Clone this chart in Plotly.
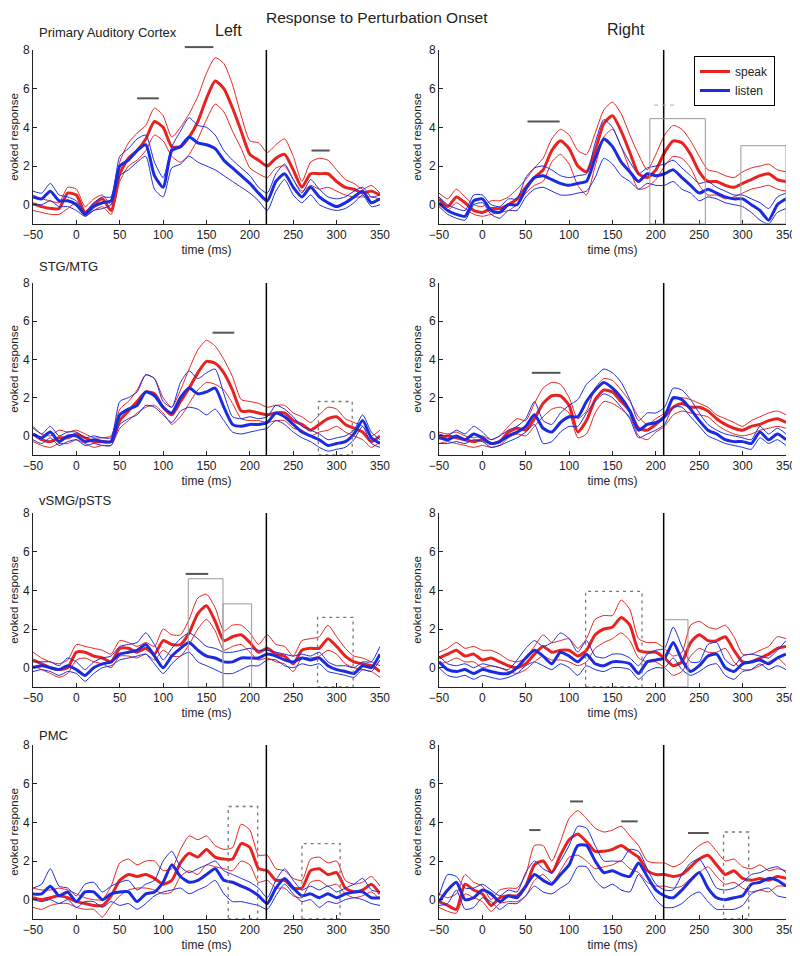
import plotly.graph_objects as go
from plotly.subplots import make_subplots

# time axis (ms), sampled every 10 ms
time_ms = list(range(-50, 351, 10))

# ---- Primary Auditory Cortex, left ----
aud_l_speak = [0.05, -0.1, -0.2, -0.2, 0.6, 0.5, -0.4, 0.0, 0.3, -0.3, 1.6, 2.4, 2.8, 3.4, 4.3, 4.0, 3.0, 3.0, 3.5, 4.3,
               5.5, 6.4, 6.0, 5.0, 3.8, 2.6, 2.3, 2.0, 2.4, 2.6, 1.8, 0.9, 1.6, 1.6, 1.6, 1.2, 0.9, 0.8, 0.6, 0.7, 0.5]
aud_l_speak_hi = [0.5, 0.3, 0.2, 0.1, 0.9, 0.8, -0.1, 0.3, 0.5, 0.0, 2.2, 3.2, 3.7, 4.1, 5.0, 4.6, 3.5, 4.0, 4.7, 5.6,
                  6.8, 7.6, 7.3, 6.2, 4.6, 3.3, 3.2, 2.7, 3.1, 3.4, 2.5, 1.2, 2.2, 2.4, 2.3, 1.8, 1.3, 1.1, 0.8, 1.0, 0.6]
aud_l_speak_lo = [-0.3, -0.4, -0.5, -0.5, -0.2, 0.1, -0.6, -0.3, -0.1, -0.5, 1.2, 2.0, 2.3, 2.8, 3.6, 3.3, 2.5, 2.2, 2.6, 3.4,
                  4.4, 5.2, 4.8, 3.8, 2.9, 1.9, 1.6, 1.4, 1.9, 2.0, 1.3, 0.7, 1.0, 0.8, 0.9, 0.7, 0.5, 0.4, 0.4, 0.4, 0.3]
aud_l_listen = [0.4, 0.3, 0.7, 0.2, 0.2, 0.0, -0.5, -0.1, 0.1, 0.2, 2.0, 2.3, 2.8, 3.1, 1.5, 0.9, 2.8, 3.0, 3.5, 3.2,
                3.1, 2.9, 2.3, 1.9, 1.5, 1.1, 0.6, 0.2, 1.2, 1.6, 0.9, 0.4, 0.9, 0.4, 0.1, -0.1, 0.1, 0.4, 0.7, 0.1, 0.3]
aud_l_listen_hi = [0.7, 0.6, 1.1, 0.5, 0.4, 0.2, -0.4, 0.1, 0.4, 0.4, 2.5, 2.9, 3.4, 3.6, 2.2, 1.4, 3.0, 3.8, 4.5, 4.1,
                   4.0, 3.6, 2.8, 2.3, 1.9, 1.5, 0.9, 0.6, 1.6, 2.1, 1.3, 0.6, 1.3, 0.8, 0.4, 0.3, 0.4, 0.7, 0.9, 0.4, 0.5]
aud_l_listen_lo = [0.0, 0.0, 0.2, -0.1, -0.1, -0.3, -0.6, -0.3, -0.2, 0.0, 1.5, 1.8, 2.2, 2.5, 0.8, 0.4, 1.9, 2.1, 2.5, 2.2,
                   2.0, 1.8, 1.5, 1.2, 0.9, 0.6, 0.2, -0.3, 0.7, 1.3, 0.5, 0.1, 0.5, 0.0, -0.2, -0.3, -0.2, 0.1, 0.5, -0.1, 0.0]

# ---- Primary Auditory Cortex, right ----
aud_r_speak = [0.3, -0.1, 0.4, 0.1, -0.3, -0.4, -0.2, -0.2, 0.0, 0.3, 0.9, 1.4, 1.8, 2.8, 3.3, 2.9, 2.0, 1.7, 2.8, 4.2,
               4.6, 3.8, 2.7, 1.6, 1.4, 1.8, 2.7, 3.3, 3.2, 2.6, 1.7, 1.2, 1.2, 1.0, 0.9, 1.1, 1.3, 1.5, 1.6, 1.3, 1.2]
aud_r_speak_hi = [0.6, 0.3, 0.8, 0.4, 0.0, -0.1, 0.2, 0.2, 0.4, 0.8, 1.3, 1.9, 2.4, 3.4, 3.9, 3.6, 2.8, 2.6, 3.7, 4.9,
                  5.3, 4.7, 3.6, 2.6, 1.8, 2.6, 3.6, 4.1, 3.9, 3.3, 2.5, 1.8, 1.7, 1.5, 1.4, 1.7, 1.9, 2.0, 2.1, 1.8, 1.7]
aud_r_speak_lo = [0.0, -0.3, 0.1, -0.2, -0.5, -0.6, -0.5, -0.4, -0.3, 0.0, 0.6, 1.0, 1.2, 2.2, 2.6, 2.1, 1.0, 0.5, 2.0, 3.5,
                  3.9, 3.0, 1.8, 0.8, 0.9, 1.3, 2.0, 2.5, 2.4, 1.9, 1.0, 0.5, 0.5, 0.3, 0.4, 0.6, 0.8, 0.9, 1.0, 0.8, 0.7]
aud_r_listen = [0.1, -0.3, -0.5, -0.6, 0.2, 0.3, -0.3, -0.4, 0.0, 0.0, 0.8, 1.4, 1.5, 1.3, 1.1, 1.0, 1.1, 1.2, 2.4, 3.4,
                3.0, 2.2, 1.7, 1.2, 1.6, 1.5, 1.6, 1.8, 1.4, 1.0, 0.6, 0.8, 0.6, 0.4, 0.3, 0.3, 0.0, -0.3, -0.8, 0.0, 0.3]
aud_r_listen_hi = [0.4, 0.0, -0.2, -0.3, 0.5, 0.5, 0.0, -0.1, 0.3, 0.3, 1.4, 1.9, 2.0, 1.8, 1.5, 1.4, 1.5, 1.6, 3.2, 4.4,
                   4.0, 3.0, 2.2, 1.6, 1.9, 2.0, 2.1, 2.3, 1.9, 1.5, 1.1, 1.2, 0.9, 0.7, 0.5, 0.5, 0.3, 0.1, -0.2, 0.4, 0.6]
aud_r_listen_lo = [-0.1, -0.5, -0.7, -0.8, 0.0, 0.1, -0.5, -0.7, -0.3, -0.3, 0.4, 0.8, 0.9, 0.7, 0.5, 0.5, 0.6, 0.7, 1.4, 2.4,
                   2.1, 1.5, 1.2, 0.8, 1.1, 1.0, 1.0, 1.2, 0.8, 0.6, 0.2, 0.4, 0.3, 0.1, 0.0, -0.1, -0.4, -0.8, -1.0, -0.4, -0.2]

# ---- STG/MTG, left ----
stg_l_speak = [0.1, -0.2, -0.3, -0.1, -0.1, 0.1, -0.1, -0.3, -0.3, -0.3, 0.8, 1.3, 1.8, 2.3, 2.2, 1.5, 1.1, 1.8, 2.5, 3.3,
               3.9, 3.8, 3.3, 2.4, 1.3, 1.3, 1.2, 1.1, 1.2, 1.2, 0.8, 0.6, 0.3, 0.6, 0.9, 1.0, 0.6, 0.4, 0.2, -0.3, 0.0]
stg_l_speak_hi = [0.4, 0.1, 0.0, 0.3, 0.2, 0.3, 0.1, -0.1, -0.1, 0.0, 1.4, 1.8, 2.4, 3.2, 3.0, 2.0, 1.5, 2.4, 3.5, 4.5,
                  5.0, 4.7, 4.0, 3.1, 1.9, 1.8, 1.7, 1.5, 1.6, 1.6, 1.2, 1.0, 0.7, 1.1, 1.5, 1.4, 0.9, 0.7, 0.5, 0.0, 0.3]
stg_l_speak_lo = [-0.3, -0.5, -0.6, -0.4, -0.4, -0.2, -0.4, -0.6, -0.5, -0.5, 0.4, 0.8, 1.2, 1.5, 1.6, 1.2, 0.6, 1.0, 1.7, 2.4,
                  2.8, 2.7, 2.4, 1.7, 0.9, 0.8, 0.8, 0.7, 0.8, 0.8, 0.4, 0.3, 0.0, 0.2, 0.3, 0.5, 0.2, 0.0, -0.2, -0.6, -0.3]
stg_l_listen = [0.1, -0.1, 0.2, -0.3, 0.0, 0.0, -0.3, -0.2, -0.3, -0.3, 1.1, 1.4, 1.6, 2.3, 2.1, 1.5, 1.2, 2.0, 2.5, 2.2,
                2.3, 2.5, 1.5, 0.6, 0.5, 0.6, 0.6, 0.7, 1.2, 1.0, 0.6, 0.2, 0.0, -0.2, -0.5, -0.4, -0.3, 0.1, 0.8, -0.1, -0.4]
stg_l_listen_hi = [0.5, 0.1, 0.5, 0.0, 0.2, 0.2, -0.1, 0.0, -0.1, -0.1, 1.8, 2.0, 2.3, 3.2, 3.0, 1.8, 1.5, 2.8, 3.4, 3.0,
                   3.3, 3.5, 2.2, 1.0, 0.9, 1.0, 0.9, 1.0, 1.6, 1.4, 1.0, 0.5, 0.3, 0.1, -0.2, -0.1, 0.0, 0.3, 1.1, 0.2, -0.2]
stg_l_listen_lo = [-0.2, -0.4, -0.1, -0.5, -0.3, -0.2, -0.5, -0.4, -0.5, -0.5, 0.6, 0.9, 1.1, 1.6, 1.5, 1.1, 0.7, 1.3, 1.5, 1.4,
                   1.1, 1.4, 0.8, 0.2, 0.1, 0.2, 0.3, 0.4, 0.8, 0.6, 0.2, -0.1, -0.3, -0.6, -0.8, -0.7, -0.6, -0.2, 0.5, -0.4, -0.6]

# ---- STG/MTG, right ----
stg_r_speak = [-0.1, 0.0, -0.1, -0.2, -0.3, -0.2, -0.4, -0.3, 0.2, 0.4, 0.3, 0.9, 1.7, 2.1, 2.1, 1.6, 0.2, 0.8, 1.9, 2.4,
               2.3, 1.8, 1.3, 0.4, 0.3, 0.6, 1.0, 1.5, 1.7, 1.5, 1.5, 1.3, 0.9, 0.6, 0.4, 0.3, 0.5, 0.6, 0.8, 0.9, 0.7]
stg_r_speak_hi = [0.2, 0.1, 0.2, 0.0, -0.1, 0.0, -0.2, 0.0, 0.5, 0.9, 0.8, 1.7, 2.5, 2.8, 2.7, 2.0, 0.9, 1.3, 2.5, 3.0,
                  2.9, 2.4, 1.8, 1.0, 0.6, 0.9, 1.2, 1.9, 2.0, 1.9, 1.7, 1.5, 1.1, 0.9, 0.7, 0.5, 0.8, 1.0, 1.2, 1.3, 1.1]
stg_r_speak_lo = [-0.4, -0.3, -0.4, -0.5, -0.6, -0.5, -0.6, -0.5, -0.1, 0.1, 0.0, 0.5, 1.0, 1.4, 1.5, 1.2, -0.1, 0.1, 1.2, 1.8,
                  1.7, 1.4, 1.0, 0.0, -0.2, 0.2, 0.5, 1.1, 1.3, 1.2, 1.1, 1.0, 0.6, 0.3, 0.1, 0.0, 0.1, 0.3, 0.4, 0.5, 0.4]
stg_r_listen = [-0.1, -0.2, 0.0, -0.2, 0.1, -0.1, -0.4, -0.3, 0.0, 0.2, 0.5, 1.1, 0.4, 0.2, 0.7, 1.0, 1.0, 1.8, 2.4, 2.8,
                2.5, 2.0, 1.3, 0.3, 0.6, 0.7, 1.0, 2.0, 1.9, 1.4, 0.8, 0.3, 0.1, -0.2, -0.3, -0.3, -0.4, 0.2, -0.2, 0.1, -0.2]
stg_r_listen_hi = [0.1, 0.0, 0.3, 0.1, 0.5, 0.2, -0.2, 0.0, 0.3, 0.5, 0.9, 1.8, 0.8, 0.6, 1.2, 1.6, 1.9, 2.7, 3.1, 3.5,
                   3.3, 2.8, 1.9, 0.8, 1.2, 1.2, 1.5, 2.5, 2.4, 1.9, 1.2, 0.6, 0.3, 0.1, 0.0, -0.1, -0.2, 0.5, 0.1, 0.4, 0.1]
stg_r_listen_lo = [-0.4, -0.4, -0.3, -0.4, -0.2, -0.3, -0.6, -0.5, -0.3, -0.1, 0.2, 0.6, -0.4, -0.3, 0.2, 0.5, 0.5, 1.2, 1.8, 2.2,
                   2.0, 1.5, 0.9, -0.1, 0.1, 0.3, 0.6, 1.5, 1.5, 1.0, 0.5, 0.0, -0.2, -0.4, -0.5, -0.6, -0.7, -0.1, -0.4, -0.2, -0.5]

# ---- vSMG/pSTS, left ----
smg_l_speak = [0.4, 0.2, 0.0, -0.1, 0.0, 0.8, 0.8, 0.6, 0.5, 0.3, 1.0, 1.0, 0.8, 1.0, 0.7, 1.4, 1.2, 1.2, 1.8, 2.8,
               3.2, 2.4, 1.4, 1.6, 1.7, 1.3, 0.8, 1.0, 0.7, 0.6, 0.2, 0.9, 1.0, 1.0, 1.5, 1.1, 0.6, 0.3, 0.2, 0.1, -0.2]
smg_l_speak_hi = [0.8, 0.5, 0.3, 0.2, 0.4, 1.2, 1.1, 1.0, 0.9, 0.7, 1.4, 1.3, 1.1, 1.3, 1.1, 2.0, 1.7, 1.7, 2.5, 3.6,
                  3.8, 3.1, 1.9, 2.2, 2.2, 1.8, 1.2, 1.7, 1.2, 1.1, 0.6, 1.4, 1.5, 1.6, 2.2, 1.6, 1.0, 0.6, 0.5, 0.3, 0.1]
smg_l_speak_lo = [0.1, -0.1, -0.3, -0.5, -0.3, 0.4, 0.5, 0.3, 0.2, 0.0, 0.6, 0.6, 0.5, 0.7, 0.4, 0.9, 0.6, 0.6, 1.2, 2.0,
                  2.5, 1.9, 0.9, 1.1, 1.2, 0.8, 0.4, 0.5, 0.3, 0.2, -0.2, 0.5, 0.5, 0.6, 0.9, 0.7, 0.2, 0.0, -0.1, -0.2, -0.5]
smg_l_listen = [0.0, 0.1, 0.0, -0.1, 0.1, -0.1, -0.4, 0.0, 0.2, 0.3, 0.7, 0.8, 0.9, 1.2, 0.6, 0.0, 0.6, 1.0, 1.3, 0.9,
                0.6, 0.5, 0.3, 0.3, 0.5, 0.5, 0.5, 0.7, 0.6, 0.4, 0.3, 0.5, 0.4, 0.5, 0.1, -0.1, -0.2, -0.3, 0.1, 0.0, 0.7]
smg_l_listen_hi = [0.3, 0.3, 0.3, 0.1, 0.5, 0.3, -0.1, 0.3, 0.5, 0.6, 1.1, 1.2, 1.3, 1.8, 1.2, 0.4, 1.0, 1.5, 1.8, 1.5,
                   1.1, 1.0, 0.8, 0.8, 0.9, 1.0, 0.9, 0.9, 0.8, 0.7, 0.6, 0.7, 0.6, 0.8, 0.3, 0.1, 0.1, 0.0, 0.3, 0.3, 1.1]
smg_l_listen_lo = [-0.2, -0.1, -0.2, -0.4, -0.2, -0.3, -0.7, -0.3, 0.0, 0.1, 0.4, 0.5, 0.6, 0.7, 0.2, -0.3, 0.2, 0.6, 0.8, 0.3,
                   0.1, -0.1, -0.3, -0.3, -0.1, 0.1, 0.1, 0.4, 0.4, 0.1, 0.0, 0.2, 0.1, 0.2, -0.2, -0.3, -0.4, -0.5, -0.1, -0.2, 0.4]

# ---- vSMG/pSTS, right ----
smg_r_speak = [0.5, 0.7, 0.9, 0.6, 0.7, 0.4, 0.5, 0.3, 0.1, 0.0, 0.2, 0.7, 1.1, 0.8, 0.9, 0.9, 0.6, 0.9, 1.7, 2.0,
               2.1, 2.6, 2.2, 0.9, 0.8, 0.8, 0.5, 0.1, 0.3, 1.3, 1.7, 1.4, 1.4, 1.6, 0.9, 0.3, 0.3, 0.5, 0.7, 1.0, 1.1]
smg_r_speak_hi = [0.8, 1.0, 1.3, 1.0, 1.1, 0.9, 0.9, 0.7, 0.4, 0.3, 0.5, 1.1, 1.7, 1.3, 1.4, 1.5, 1.0, 1.5, 2.5, 2.7,
                  2.7, 3.5, 3.0, 1.5, 1.3, 1.3, 1.0, 0.6, 0.8, 2.2, 2.4, 2.1, 2.0, 2.2, 1.6, 0.7, 0.7, 0.9, 1.1, 1.6, 1.5]
smg_r_speak_lo = [0.2, 0.3, 0.5, 0.3, 0.3, 0.0, 0.1, 0.0, -0.2, -0.3, -0.1, 0.3, 0.6, 0.4, 0.4, 0.3, 0.1, 0.3, 1.0, 1.3,
                  1.5, 1.8, 1.4, 0.5, 0.3, 0.3, 0.0, -0.4, -0.2, 0.6, 1.0, 0.8, 0.8, 1.0, 0.3, -0.1, -0.1, 0.1, 0.3, 0.5, 0.1]
smg_r_listen = [0.3, -0.1, -0.2, -0.1, -0.3, -0.1, -0.2, -0.3, -0.3, 0.0, 0.5, 0.9, 0.6, 0.2, 0.8, 0.6, 0.3, 0.7, 0.2, 0.1,
                0.3, 0.3, 0.2, -0.3, 0.3, 0.4, 0.5, 1.3, 0.4, -0.2, 0.1, 0.6, 0.7, 0.0, -0.2, 0.2, 0.3, 0.4, 0.2, 0.5, 0.7]
smg_r_listen_hi = [0.6, 0.2, 0.1, 0.2, 0.0, 0.2, 0.1, 0.0, -0.1, 0.4, 1.0, 1.4, 1.1, 1.3, 1.8, 1.5, 0.8, 1.4, 0.6, 0.5,
                   0.7, 0.7, 0.5, 0.1, 0.7, 0.9, 1.0, 2.1, 1.1, 0.3, 0.3, 1.2, 1.3, 0.4, 0.1, 0.6, 0.7, 0.6, 0.5, 0.9, 1.4]
smg_r_listen_lo = [0.0, -0.4, -0.5, -0.4, -0.6, -0.4, -0.5, -0.6, -0.5, -0.3, 0.1, 0.3, 0.1, -0.1, 0.2, 0.0, -0.4, 0.1, -0.1, -0.2,
                   0.0, 0.0, -0.1, -0.6, -0.2, 0.0, 0.0, 0.5, -0.1, -0.4, -0.2, 0.1, 0.2, -0.4, -0.6, -0.2, -0.1, 0.2, -0.1, 0.1, -0.1]

# ---- PMC, left ----
pmc_l_speak = [0.1, 0.0, 0.1, 0.2, 0.1, -0.1, -0.2, -0.3, -0.3, 0.2, 1.0, 1.3, 1.2, 1.3, 1.1, 0.8, 1.0, 1.9, 2.4, 2.2,
               2.6, 2.2, 2.1, 2.1, 2.9, 2.7, 1.6, 1.5, 1.0, 1.0, 0.6, 0.6, 1.5, 1.6, 1.3, 1.4, 0.6, 0.4, 0.5, 0.8, 0.3]
pmc_l_speak_hi = [0.6, 0.5, 0.5, 0.6, 0.5, 0.3, 0.1, 0.0, 0.0, 0.7, 1.9, 2.1, 1.8, 2.0, 2.0, 1.5, 1.6, 2.6, 3.3, 3.1,
                  3.3, 2.8, 2.6, 2.7, 3.9, 3.6, 2.3, 2.3, 1.6, 1.5, 1.1, 1.0, 2.1, 2.2, 1.9, 2.0, 1.0, 0.8, 0.9, 1.2, 0.7]
pmc_l_speak_lo = [-0.4, -0.5, -0.3, -0.2, -0.2, -0.4, -0.5, -0.5, -0.9, -0.3, 0.2, 0.5, 0.6, 0.6, 0.5, 0.3, 0.4, 1.2, 1.5, 1.3,
                  1.8, 1.7, 1.6, 1.5, 2.0, 1.8, 0.9, 1.0, 0.6, 0.6, 0.2, 0.1, 0.9, 1.0, 0.7, 0.8, 0.3, 0.1, 0.2, 0.4, 0.0]
pmc_l_listen = [0.3, 0.3, 0.7, 0.2, 0.4, -0.1, 0.4, 0.4, 0.0, 0.3, 0.4, 0.4, -0.1, 0.3, 0.4, 0.9, 1.8, 1.2, 0.9, 1.0,
                1.3, 1.6, 1.0, 0.9, 0.7, 0.5, 0.2, -0.2, 0.6, 1.1, 0.6, 0.2, 0.3, 0.1, 0.3, 0.1, 0.3, 0.4, 0.4, 0.1, 0.1]
pmc_l_listen_hi = [0.6, 0.8, 1.6, 0.7, 0.6, 0.2, 0.8, 0.9, 0.4, 0.7, 0.9, 1.0, 0.5, 0.8, 1.0, 2.0, 2.5, 1.7, 1.4, 1.6,
                   1.8, 2.0, 1.5, 1.3, 1.1, 0.9, 0.6, 0.1, 1.0, 1.6, 1.0, 0.5, 0.7, 0.5, 0.7, 0.4, 0.6, 0.8, 1.1, 0.5, 0.4]
pmc_l_listen_lo = [0.0, -0.1, 0.0, -0.2, 0.0, -0.4, -0.1, -0.1, -0.4, -0.1, -0.3, -0.2, -0.5, -0.2, 0.2, 0.4, 0.5, 0.6, 0.3, 0.5,
                   0.7, 1.0, 0.3, -0.1, -0.1, -0.2, -0.3, -0.5, 0.2, 0.8, 0.3, -0.1, 0.0, -0.4, -0.1, -0.2, 0.0, 0.1, 0.0, -0.2, -0.3]

# ---- PMC, right ----
pmc_r_speak = [-0.1, -0.3, -0.5, 0.8, 0.5, 0.3, -0.3, 0.1, 0.2, 0.2, 0.7, 1.8, 2.0, 1.4, 2.3, 3.1, 3.4, 3.0, 2.5, 2.5,
               2.6, 2.8, 2.5, 2.2, 1.5, 1.3, 1.3, 1.2, 1.3, 1.7, 2.1, 2.3, 1.8, 1.3, 1.5, 1.1, 1.0, 1.1, 1.0, 1.2, 1.1]
pmc_r_speak_hi = [0.3, 0.1, 0.3, 1.3, 0.9, 0.7, 0.0, 0.5, 0.6, 0.6, 1.3, 2.8, 2.8, 2.0, 3.0, 4.2, 4.6, 4.2, 3.7, 3.5,
                  3.6, 3.8, 3.3, 2.8, 2.0, 1.9, 1.9, 1.7, 1.9, 2.4, 2.8, 3.0, 2.5, 2.0, 2.1, 1.7, 1.6, 1.8, 1.5, 1.6, 1.5]
pmc_r_speak_lo = [-0.4, -0.6, -0.7, 0.3, 0.1, -0.1, -0.6, -0.2, -0.1, -0.1, 0.2, 1.0, 1.3, 0.9, 1.5, 2.2, 2.3, 2.0, 1.6, 1.7,
                  1.8, 2.0, 1.6, 1.4, 0.9, 0.7, 0.7, 0.6, 0.7, 1.1, 1.4, 1.7, 1.2, 0.8, 0.9, 0.6, 0.4, 0.5, 0.4, 0.7, 0.7]
pmc_r_listen = [-0.1, 0.5, 0.9, 0.0, 0.1, 0.5, 0.3, -0.1, 0.2, 0.1, 0.7, 1.3, 1.0, 0.8, 1.3, 1.8, 2.8, 2.8, 2.0, 1.4,
                1.5, 1.3, 1.2, 1.9, 1.2, 0.5, 0.2, 0.1, 0.5, 1.0, 1.4, 0.6, 0.1, 0.0, 0.1, 0.2, 0.8, 0.9, 1.1, 1.0, 0.7]
pmc_r_listen_hi = [0.2, 1.3, 1.2, 0.6, 0.6, 0.8, 0.5, 0.2, 0.5, 0.4, 1.4, 2.0, 1.6, 1.4, 2.0, 2.8, 3.8, 3.7, 2.8, 2.0,
                   2.0, 2.0, 2.6, 2.5, 1.6, 0.8, 0.5, 0.5, 1.3, 1.9, 2.1, 1.4, 0.6, 0.5, 0.6, 0.9, 1.3, 1.4, 1.6, 1.7, 1.4]
pmc_r_listen_lo = [-0.3, -0.2, 0.5, -0.5, -0.4, 0.1, -0.1, -0.5, -0.2, -0.2, 0.2, 0.7, 0.4, 0.3, 0.6, 0.9, 1.7, 1.7, 1.0, 0.6,
                   0.8, 0.5, 0.4, 1.3, 0.7, 0.0, -0.4, -0.4, -0.2, 0.2, 0.4, -0.1, -0.5, -0.5, -0.5, -0.3, 0.3, 0.5, 0.6, 0.2, 0.1]

# perturbation-response onset (ms) per hemisphere
onset_left = 219
onset_right = 209

# significance bars: (start ms, end ms, level)
aud_l_bars = [(70, 95, 5.5), (125, 158, 8.15), (271, 292, 2.8)]
aud_r_bars = [(52, 89, 4.3)]
aud_r_dashbars = [(198, 221, 5.15)]
stg_l_bars = [(157, 182, 5.4)]
stg_r_bars = [(57, 90, 3.3)]
smg_l_bars = [(126, 152, 4.85)]
pmc_r_bars = [(54, 67, 3.6), (101, 116, 5.08), (160, 179, 4.05), (237, 261, 3.45)]

# analysis windows: (start ms, end ms, top, dashed?)
aud_r_boxes = [(193, 257, 4.45, False), (298, 350, 3.05, False)]
stg_l_boxes = [(279, 318, 1.8, True)]
smg_l_boxes = [(129, 169, 4.6, False), (169, 202, 3.3, False), (278, 319, 2.6, True)]
smg_r_boxes = [(119, 184, 3.95, True), (210, 237, 2.48, False)]
pmc_l_boxes = [(175, 209, 4.82, True), (260, 304, 2.9, True)]
pmc_r_boxes = [(278, 307, 3.5, True)]

panels = [
    (1, 1, aud_l_speak, aud_l_speak_hi, aud_l_speak_lo, aud_l_listen, aud_l_listen_hi, aud_l_listen_lo,
     onset_left, aud_l_bars, [], []),
    (1, 2, aud_r_speak, aud_r_speak_hi, aud_r_speak_lo, aud_r_listen, aud_r_listen_hi, aud_r_listen_lo,
     onset_right, aud_r_bars, aud_r_dashbars, aud_r_boxes),
    (2, 1, stg_l_speak, stg_l_speak_hi, stg_l_speak_lo, stg_l_listen, stg_l_listen_hi, stg_l_listen_lo,
     onset_left, stg_l_bars, [], stg_l_boxes),
    (2, 2, stg_r_speak, stg_r_speak_hi, stg_r_speak_lo, stg_r_listen, stg_r_listen_hi, stg_r_listen_lo,
     onset_right, stg_r_bars, [], []),
    (3, 1, smg_l_speak, smg_l_speak_hi, smg_l_speak_lo, smg_l_listen, smg_l_listen_hi, smg_l_listen_lo,
     onset_left, smg_l_bars, [], smg_l_boxes),
    (3, 2, smg_r_speak, smg_r_speak_hi, smg_r_speak_lo, smg_r_listen, smg_r_listen_hi, smg_r_listen_lo,
     onset_right, [], [], smg_r_boxes),
    (4, 1, pmc_l_speak, pmc_l_speak_hi, pmc_l_speak_lo, pmc_l_listen, pmc_l_listen_hi, pmc_l_listen_lo,
     onset_left, [], [], pmc_l_boxes),
    (4, 2, pmc_r_speak, pmc_r_speak_hi, pmc_r_speak_lo, pmc_r_listen, pmc_r_listen_hi, pmc_r_listen_lo,
     onset_right, pmc_r_bars, [], pmc_r_boxes),
]

RED = '#e8231f'
BLUE = '#1a2be0'
FONT = 'Liberation Sans, Arial, sans-serif'
INK = '#222222'
X_RANGE = [-50, 350]
Y_RANGE = [-1, 8]

# the page adds an 8px body margin, so the figure is laid out 8px in from the window edge
W, H, OFF = 792, 948, 8

fig = make_subplots(rows=4, cols=2)


def px_x(p):
    return (p - OFF) / W


def px_y(p):
    return 1 - (p - OFF) / H


x_domains = {1: [px_x(33), px_x(380)], 2: [px_x(439), px_x(786)]}
y_domains = {1: [px_y(224), px_y(50)], 2: [px_y(455), px_y(283)],
             3: [px_y(687), px_y(513)], 4: [px_y(919), px_y(745)]}

for (r, c, sp, sp_hi, sp_lo, li, li_hi, li_lo, onset, bars, dashbars, boxes) in panels:
    legend_here = (r == 1 and c == 2)
    sm = 0.6
    for ys in (sp_hi, sp_lo):
        fig.add_trace(go.Scatter(x=time_ms, y=ys, mode='lines', showlegend=False, hoverinfo='skip',
                                 line=dict(color=RED, width=1, shape='spline', smoothing=sm)), row=r, col=c)
    fig.add_trace(go.Scatter(x=time_ms, y=sp, mode='lines', name='speak', legendgroup='speak',
                             showlegend=legend_here,
                             line=dict(color=RED, width=3, shape='spline', smoothing=sm)), row=r, col=c)
    for ys in (li_hi, li_lo):
        fig.add_trace(go.Scatter(x=time_ms, y=ys, mode='lines', showlegend=False, hoverinfo='skip',
                                 line=dict(color=BLUE, width=1, shape='spline', smoothing=sm)), row=r, col=c)
    fig.add_trace(go.Scatter(x=time_ms, y=li, mode='lines', name='listen', legendgroup='listen',
                             showlegend=legend_here,
                             line=dict(color=BLUE, width=3, shape='spline', smoothing=sm)), row=r, col=c)

    fig.add_shape(type='line', x0=onset, x1=onset, y0=-1, y1=8, line=dict(color='black', width=1.5),
                  row=r, col=c)
    for x0, x1, lvl in bars:
        if lvl > Y_RANGE[1]:
            # bar sits above the axes top: place it in axis-domain units so it is not clipped
            fx = lambda t: (t - X_RANGE[0]) / (X_RANGE[1] - X_RANGE[0])
            fy = (lvl - Y_RANGE[0]) / (Y_RANGE[1] - Y_RANGE[0])
            fig.add_shape(type='line', xref='x domain', yref='y domain', x0=fx(x0), x1=fx(x1), y0=fy, y1=fy,
                          line=dict(color='#555555', width=2), row=r, col=c)
        else:
            fig.add_shape(type='line', x0=x0, x1=x1, y0=lvl, y1=lvl, line=dict(color='#555555', width=2),
                          row=r, col=c)
    for x0, x1, lvl in dashbars:
        fig.add_shape(type='line', x0=x0, x1=x1, y0=lvl, y1=lvl,
                      line=dict(color='#aaaaaa', width=1, dash='4px,4px'), row=r, col=c)
    for x0, x1, top, dashed in boxes:
        fig.add_shape(type='rect', x0=x0, x1=x1, y0=-1, y1=top,
                      line=dict(color='#777777' if dashed else '#999999', width=1.3 if dashed else 1,
                                dash='3px,4px' if dashed else 'solid'),
                      row=r, col=c)

    fig.update_xaxes(domain=x_domains[c], range=X_RANGE, tickvals=list(range(-50, 351, 50)),
                     showline=True, linecolor=INK, linewidth=1, ticks='inside', ticklen=4, tickcolor=INK,
                     showgrid=False, zeroline=False, automargin=False,
                     tickfont=dict(family=FONT, size=12, color=INK),
                     title=dict(text='time (ms)', font=dict(family=FONT, size=12, color=INK), standoff=4),
                     row=r, col=c)
    fig.update_yaxes(domain=y_domains[r], range=Y_RANGE, tickvals=[0, 2, 4, 6, 8],
                     showline=True, linecolor=INK, linewidth=1, ticks='inside', ticklen=4, tickcolor=INK,
                     showgrid=False, zeroline=False, automargin=False,
                     tickfont=dict(family=FONT, size=12, color=INK),
                     title=dict(text='evoked response', font=dict(family=FONT, size=11.5, color=INK), standoff=4),
                     row=r, col=c)

texts = [
    ('Left', 228, 30, 16, 'center'),
    ('Right', 626, 29, 16, 'center'),
    ('Primary Auditory Cortex', 37, 33, 13, 'left'),
    ('STG/MTG', 37, 266, 13, 'left'),
    ('vSMG/pSTS', 37, 500, 13, 'left'),
    ('PMC', 37, 735, 13, 'left'),
]
for txt, px, py, size, anchor in texts:
    fig.add_annotation(text=txt, x=px_x(px), y=px_y(py), xref='paper', yref='paper',
                       xanchor=anchor, yanchor='middle', showarrow=False,
                       font=dict(family=FONT, size=size, color=INK))

# overall title, pinned to the top edge so it is not clipped
fig.add_annotation(text='Response to Perturbation Onset', x=px_x(377), y=1, xref='paper', yref='paper',
                   xanchor='center', yanchor='top', showarrow=False, borderpad=0,
                   font=dict(family=FONT, size=15.5, color=INK))

fig.update_layout(
    width=W, height=H,
    margin=dict(l=0, r=0, t=0, b=0),
    paper_bgcolor='white', plot_bgcolor='white',
    font=dict(family=FONT, color=INK),
    legend=dict(x=px_x(694), y=px_y(56), xanchor='left', yanchor='top',
                bordercolor='black', borderwidth=1, bgcolor='white',
                font=dict(family=FONT, size=12, color=INK), tracegroupgap=0),
)

fig.write_html("out.html")
